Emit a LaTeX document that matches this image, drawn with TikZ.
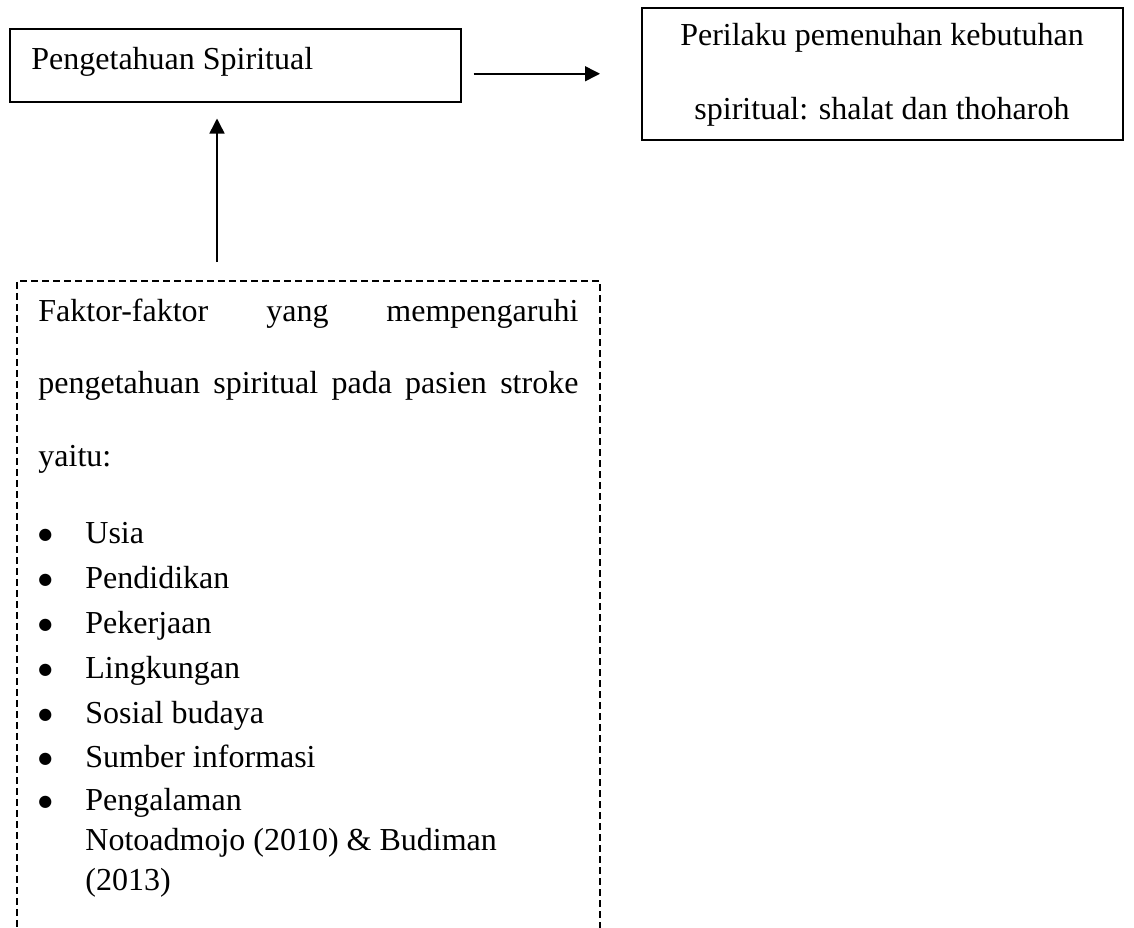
\documentclass[tikz,border=0pt]{standalone}
\usepackage{fontspec}
\setmainfont{Liberation Serif}
\newfontfamily\dejavu{DejaVu Sans}
\usetikzlibrary{arrows.meta}
\newcommand{\bigbul}{\makebox[23.5pt][l]{\raisebox{1.6pt}{\dejavu\fontsize{8}{8}\selectfont ●}}}
\begin{document}
\begin{tikzpicture}[x=0.5pt,y=-0.5pt,
  txt/.style={font=\fontsize{16}{19}\selectfont, inner sep=0pt, anchor=base west},
  ctxt/.style={font=\fontsize{16}{19}\selectfont, inner sep=0pt, anchor=base},
  solidbox/.style={draw, line width=0.75pt, inner sep=0pt, anchor=north west},
  dashbox/.style={draw, line width=0.8pt, dash pattern=on 3.5pt off 2pt, inner sep=0pt, anchor=north west},
  arr/.style={line width=0.75pt, -{Triangle[length=7.5pt,width=7.5pt]}}]
\useasboundingbox (0,0) rectangle (1134,927);
\clip (0,0) rectangle (1134,927);
% boxes
\node[solidbox, minimum width=225.5pt, minimum height=36.5pt] (box1) at (9,28) {};
\node[solidbox, minimum width=240.5pt, minimum height=66pt] (box2) at (641,7) {};
\node[dashbox, minimum width=291.5pt, minimum height=335pt] (faktor) at (16,280) {};
% box texts
\node[txt] (t1) at (31,69) {Pengetahuan Spiritual};
\node[ctxt] (t2a) at (882,45) {Perilaku pemenuhan kebutuhan};
\node[ctxt] (t2b) at (882,119) {spiritual: shalat dan thoharoh};
% factor text
\node[txt] (f1) at (38,321) {\makebox[270pt][s]{Faktor-faktor yang mempengaruhi}};
\node[txt] (f2) at (38,393) {\makebox[270pt][s]{pengetahuan spiritual pada pasien stroke}};
\node[txt] (f3) at (38,466) {yaitu:};
\node[txt] (b1) at (38,543) {\bigbul Usia};
\node[txt] (b2) at (38,588) {\bigbul Pendidikan};
\node[txt] (b3) at (38,633) {\bigbul Pekerjaan};
\node[txt] (b4) at (38,678) {\bigbul Lingkungan};
\node[txt] (b5) at (38,723) {\bigbul Sosial budaya};
\node[txt] (b6) at (38,767) {\bigbul Sumber informasi};
\node[txt] (b7) at (38,810) {\bigbul Pengalaman};
\node[txt] (c1) at (85,850) {Notoadmojo (2010) \& Budiman};
\node[txt] (c2) at (85,890) {(2013)};
% connectors
\coordinate (vx) at (217,0);
\draw[arr, shorten <=6pt, shorten >=20.5pt] (box1.east |- box2.west) -- (box2.west);
\draw[arr, shorten <=9pt, shorten >=8pt] (faktor.north -| vx) -- (box1.south -| vx);
\end{tikzpicture}
\end{document}
